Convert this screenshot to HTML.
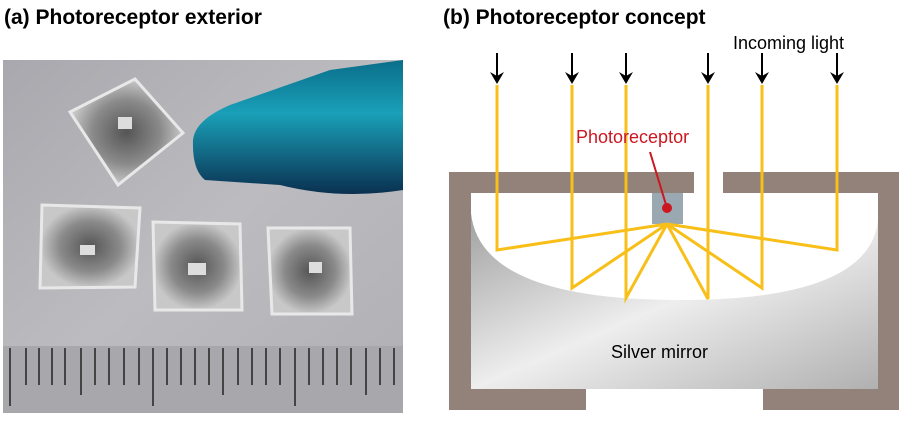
<!DOCTYPE html>
<html><head><style>
body{margin:0;width:900px;height:416px;background:#fff;overflow:hidden;font-family:"Liberation Sans",sans-serif}
</style></head><body>
<svg width="900" height="416" viewBox="0 0 900 416" xmlns="http://www.w3.org/2000/svg">
<defs>
<linearGradient id="bg" x1="0" y1="0" x2="1" y2="1"><stop offset="0" stop-color="#a8a8ae"/><stop offset="0.5" stop-color="#bcbcc0"/><stop offset="1" stop-color="#b0b0b4"/></linearGradient>
<linearGradient id="mir" x1="0" y1="0" x2="1" y2="1"><stop offset="0" stop-color="#a0a0a0"/><stop offset="0.5" stop-color="#eeeeee"/><stop offset="1" stop-color="#b0b0b0"/></linearGradient>
<radialGradient id="cup"><stop offset="0" stop-color="#555"/><stop offset="0.6" stop-color="#8a8a8a"/><stop offset="1" stop-color="#c8c8c8"/></radialGradient>
<linearGradient id="pen" x1="0" y1="0" x2="0" y2="1"><stop offset="0" stop-color="#0a6e8a"/><stop offset="0.4" stop-color="#1aa0b8"/><stop offset="1" stop-color="#0a3050"/></linearGradient>
</defs>
<text x="4" y="24" font-size="21" font-weight="bold">(a) Photoreceptor exterior</text>
<text x="443" y="24" font-size="21" font-weight="bold">(b) Photoreceptor concept</text>
<!-- photo -->
<rect x="3" y="60" width="400" height="353" fill="url(#bg)"/>
<rect x="3" y="346" width="400" height="67" fill="#a8a8ac"/>
<g stroke="#222" stroke-width="1.5">
<line x1="10" y1="348" x2="10" y2="406"/><line x1="26" y1="348" x2="26" y2="385"/><line x1="39" y1="348" x2="39" y2="385"/><line x1="52" y1="348" x2="52" y2="385"/><line x1="65" y1="348" x2="65" y2="385"/><line x1="81" y1="348" x2="81" y2="395"/><line x1="95" y1="348" x2="95" y2="385"/><line x1="109" y1="348" x2="109" y2="385"/><line x1="124" y1="348" x2="124" y2="385"/><line x1="139" y1="348" x2="139" y2="385"/><line x1="153" y1="348" x2="153" y2="406"/><line x1="167" y1="348" x2="167" y2="385"/><line x1="181" y1="348" x2="181" y2="385"/><line x1="195" y1="348" x2="195" y2="385"/><line x1="209" y1="348" x2="209" y2="385"/><line x1="223" y1="348" x2="223" y2="395"/><line x1="238" y1="348" x2="238" y2="385"/><line x1="252" y1="348" x2="252" y2="385"/><line x1="266" y1="348" x2="266" y2="385"/><line x1="280" y1="348" x2="280" y2="385"/><line x1="295" y1="348" x2="295" y2="406"/><line x1="309" y1="348" x2="309" y2="385"/><line x1="323" y1="348" x2="323" y2="385"/><line x1="337" y1="348" x2="337" y2="385"/><line x1="351" y1="348" x2="351" y2="385"/><line x1="366" y1="348" x2="366" y2="395"/><line x1="380" y1="348" x2="380" y2="385"/><line x1="394" y1="348" x2="394" y2="385"/>
</g>
<path d="M193 140 Q195 120 230 105 L330 70 L403 60 L403 190 Q340 200 280 185 L205 180 Q192 170 193 140 Z" fill="url(#pen)"/>
<g stroke="#e8e8e8" stroke-width="3">
<polygon points="70,112 135,79 183,133 118,185" fill="url(#cup)"/>
<polygon points="42,205 140,208 135,287 40,288" fill="url(#cup)"/>
<polygon points="153,222 240,224 242,310 155,310" fill="url(#cup)"/>
<polygon points="268,228 350,228 352,314 272,314" fill="url(#cup)"/>
</g>
<g fill="#ddd"><rect x="80" y="245" width="15" height="10"/><rect x="188" y="263" width="18" height="12"/><rect x="309" y="262" width="13" height="11"/><rect x="118" y="117" width="14" height="12"/></g>
<!-- concept -->
<path d="M449 172 H694 V193 H471 V389 H586 V410 H449 Z" fill="#938279"/>
<path d="M723 172 H899 V410 H763 V389 H878 V193 H723 Z" fill="#938279"/>
<path d="M471 213 Q480 300 680 300 Q870 300 878 220 V389 H471 Z" fill="url(#mir)"/>
<rect x="652" y="193" width="31" height="31" fill="#9aa8b2"/>
<g stroke="#f8bf19" stroke-width="3" fill="none" stroke-linejoin="miter">
<polyline points="497,85 497,250 667,224"/>
<polyline points="572,85 572,288 667,224"/>
<polyline points="626,85 626,298 667,224"/>
<polyline points="708,85 708,299 667,224"/>
<polyline points="762,85 762,288 667,224"/>
<polyline points="837,85 837,250 667,224"/>
</g>
<line x1="667" y1="208" x2="650" y2="152" stroke="#cc1620" stroke-width="2"/>
<circle cx="667" cy="208" r="5" fill="#cc1620"/>
<text x="576" y="143" font-size="18" fill="#cc1620">Photoreceptor</text>
<g stroke="#000" stroke-width="2">
<line x1="497" y1="53" x2="497" y2="80"/><line x1="572" y1="53" x2="572" y2="80"/><line x1="626" y1="53" x2="626" y2="80"/><line x1="708" y1="53" x2="708" y2="80"/><line x1="762" y1="53" x2="762" y2="80"/><line x1="837" y1="53" x2="837" y2="80"/>
</g>
<g fill="#000">
<path d="M490 72 L497 84 L504 72 L497 76Z"/><path d="M565 72 L572 84 L579 72 L572 76Z"/><path d="M619 72 L626 84 L633 72 L626 76Z"/><path d="M701 72 L708 84 L715 72 L708 76Z"/><path d="M755 72 L762 84 L769 72 L762 76Z"/><path d="M830 72 L837 84 L844 72 L837 76Z"/>
</g>
<text x="733" y="49" font-size="18">Incoming light</text>
<text x="611" y="358" font-size="18">Silver mirror</text>
</svg>
</body></html>
